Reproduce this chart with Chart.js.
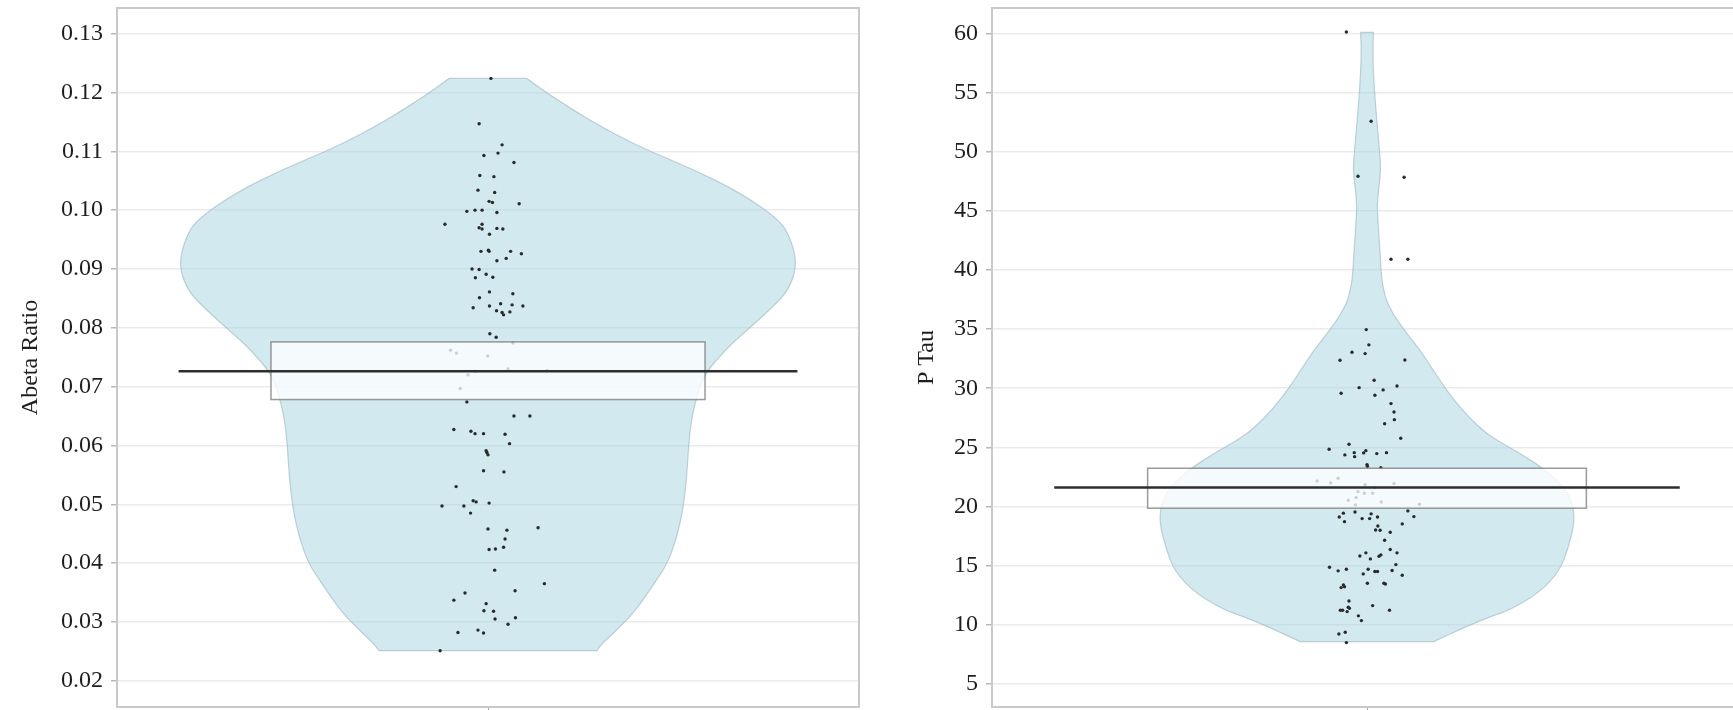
<!DOCTYPE html>
<html>
<head>
<meta charset="utf-8">
<script src="https://cdn.jsdelivr.net/npm/chart.js@4.4.0/dist/chart.umd.min.js"></script>
<style>
  html, body { margin: 0; padding: 0; background: #fff; width: 1733px; height: 710px; overflow: hidden; }
  .panel { position: absolute; top: 0; height: 710px; overflow: hidden; }
  #panelA { left: 0; width: 868px; }
  #panelB { left: 868px; width: 865px; }
  canvas { display: block; }
</style>
</head>
<body>
<div class="panel" id="panelA"><canvas id="abetaChart" width="870" height="760"></canvas></div>
<div class="panel" id="panelB"><canvas id="ptauChart" width="880" height="760"></canvas></div>
<script>
// ---- Abeta Ratio ----
const abetaValues = [
  0.1224, 0.1147, 0.1111, 0.1097, 0.1093, 0.1081, 0.1059, 0.1057, 0.1034, 0.1030,
  0.1015, 0.1013, 0.1011, 0.0998, 0.1000, 0.1000, 0.0996, 0.0976, 0.0976, 0.0970,
  0.0968, 0.0969, 0.0968, 0.0959, 0.0930, 0.0932, 0.0930, 0.0930, 0.0926, 0.0918,
  0.0914, 0.0900, 0.0899, 0.0891, 0.0885, 0.0886, 0.0861, 0.0858, 0.0851, 0.0834,
  0.0837, 0.0841, 0.0839, 0.0837, 0.0829, 0.0826, 0.0822, 0.0827, 0.0790, 0.0784,
  0.0774, 0.0762, 0.0757, 0.0752, 0.0730, 0.0726, 0.0727, 0.0720, 0.0697, 0.0674,
  0.0650, 0.0650, 0.0627, 0.0624, 0.0620, 0.0620, 0.0619, 0.0603, 0.0591, 0.0588,
  0.0584, 0.0557, 0.0555, 0.0530, 0.0506, 0.0504, 0.0497, 0.0497, 0.0502, 0.0485,
  0.0458, 0.0456, 0.0460, 0.0441, 0.0423, 0.0424, 0.0427, 0.0388, 0.0365, 0.0353,
  0.0349, 0.0337, 0.0331, 0.0319, 0.0318, 0.0305, 0.0307, 0.0296, 0.0282, 0.0286,
  0.0281, 0.0251
];
const abetaJitter = [
  0.008, -0.024, 0.038, 0.027, -0.011, 0.070, -0.022, 0.016, -0.027, 0.018,
  0.003, 0.012, 0.084, -0.057, -0.035, -0.016, 0.024, -0.116, -0.016, -0.024,
  -0.016, 0.024, 0.040, 0.004, -0.019, 0.001, 0.003, 0.061, 0.090, 0.049,
  0.024, -0.043, -0.024, -0.005, -0.034, 0.013, 0.004, 0.067, -0.023, -0.040,
  0.004, 0.034, 0.065, 0.094, 0.023, 0.038, 0.042, 0.059, 0.005, 0.022,
  0.067, -0.101, -0.085, -0.001, 0.054, -0.034, 0.159, -0.054, -0.075, -0.057,
  0.070, 0.113, -0.092, -0.046, -0.035, -0.012, 0.046, 0.058, -0.005, -0.003,
  0.000, -0.012, 0.043, -0.086, -0.040, -0.032, -0.124, -0.065, 0.003, -0.047,
  0.000, 0.051, 0.135, 0.046, 0.003, 0.020, 0.042, 0.018, 0.152, 0.073,
  -0.062, -0.092, -0.005, -0.011, 0.015, 0.019, 0.074, 0.054, -0.081, -0.027,
  -0.012, -0.129
];
// density outline: levels (top to bottom) and half widths in x-axis units
const abetaLevels = [
  0.1224, 0.1210, 0.1196, 0.1176, 0.1165, 0.1150, 0.1136, 0.1118, 0.1100, 0.1067,
  0.1030, 0.0983, 0.0950, 0.0907, 0.0870, 0.0847, 0.0800, 0.0774, 0.0750, 0.0726,
  0.0700, 0.0678, 0.0650, 0.0610, 0.0550, 0.0500, 0.0450, 0.0400, 0.0360, 0.0330,
  0.0305, 0.0280, 0.0262, 0.0251
];
const abetaHalfWidths = [
  0.105, 0.135, 0.167, 0.216, 0.243, 0.283, 0.323, 0.377, 0.437, 0.561,
  0.679, 0.787, 0.817, 0.833, 0.814, 0.787, 0.706, 0.658, 0.623, 0.590,
  0.571, 0.561, 0.550, 0.542, 0.536, 0.528, 0.512, 0.485, 0.442, 0.410,
  0.377, 0.337, 0.305, 0.294
];
const abetaBand = [0.0678, 0.0776];
const abetaMean = 0.0726;
const abetaTicks = [0.02, 0.03, 0.04, 0.05, 0.06, 0.07, 0.08, 0.09, 0.10, 0.11, 0.12, 0.13];

// ---- P Tau ----
const ptauValues = [
  60.14, 52.59, 47.94, 47.85, 40.91, 40.91, 34.96, 33.67, 33.05, 32.93,
  32.37, 32.39, 30.68, 30.05, 30.19, 29.58, 29.86, 29.41, 28.70, 27.99,
  27.34, 27.00, 25.77, 25.26, 24.84, 24.36, 24.55, 24.21, 24.53, 24.72,
  24.47, 24.55, 23.54, 23.40, 23.28, 22.15, 21.99, 22.38, 21.84, 21.59,
  21.93, 21.25, 21.12, 21.12, 20.75, 20.52, 20.38, 20.19, 20.13, 19.53,
  19.62, 19.43, 19.37, 19.11, 19.14, 18.97, 18.97, 19.11, 18.71, 18.52,
  18.35, 18.01, 17.99, 17.82, 17.14, 16.35, 16.07, 16.07, 15.81, 15.90,
  15.79, 15.56, 15.08, 14.86, 14.55, 14.69, 14.69, 14.49, 14.49, 14.58,
  14.18, 14.29, 13.50, 13.50, 13.44, 13.36, 13.21, 13.13, 12.00, 11.61,
  11.47, 11.39, 11.22, 11.22, 11.10, 11.22, 10.74, 10.34, 9.21, 9.36,
  8.48
];
const ptauJitter = [
  -0.055, 0.011, -0.024, 0.099, 0.064, 0.109, -0.002, 0.005, -0.040, -0.005,
  -0.072, 0.101, 0.019, -0.021, 0.080, -0.069, 0.043, 0.021, 0.064, 0.072,
  0.073, 0.047, 0.090, -0.048, -0.101, -0.059, -0.034, -0.033, -0.009, -0.003,
  0.026, 0.052, 0.000, 0.001, 0.037, -0.133, -0.097, -0.077, -0.005, 0.021,
  0.072, -0.024, -0.007, 0.015, -0.029, -0.050, 0.038, 0.140, -0.031, -0.032,
  0.109, -0.063, 0.011, -0.074, 0.125, -0.013, 0.007, 0.028, -0.060, 0.094,
  0.029, 0.023, 0.035, 0.062, 0.047, 0.062, -0.003, 0.080, -0.019, 0.037,
  0.032, 0.009, 0.077, -0.100, -0.077, -0.055, 0.003, 0.021, 0.028, 0.067,
  0.094, -0.010, 0.001, 0.045, 0.049, -0.063, -0.060, -0.069, -0.048, 0.015,
  -0.050, -0.047, -0.071, -0.065, -0.053, 0.060, -0.023, -0.015, -0.075, -0.058,
  -0.055
];
const ptauLevels = [
  60.1, 58.3, 55.5, 52.7, 49.9, 48.5, 47.1, 45.6, 44.2, 41.4,
  39.2, 38.0, 37.4, 36.9, 36.0, 34.6, 33.2, 31.8, 30.4, 29.0,
  27.6, 26.1, 25.1, 24.1, 23.1, 21.6, 20.0, 18.6, 16.5, 14.5,
  12.7, 11.2, 10.7, 9.8, 8.56
];
const ptauHalfWidths = [
  0.017, 0.015, 0.019, 0.026, 0.034, 0.037, 0.032, 0.027, 0.029, 0.035,
  0.039, 0.047, 0.052, 0.060, 0.075, 0.107, 0.142, 0.171, 0.200, 0.232,
  0.270, 0.320, 0.374, 0.427, 0.475, 0.528, 0.550, 0.553, 0.537, 0.513,
  0.459, 0.379, 0.331, 0.262, 0.178
];
const ptauBand = [19.85, 23.23];
const ptauMean = 21.6;
const ptauTicks = [5, 10, 15, 20, 25, 30, 35, 40, 45, 50, 55, 60];

// ---- drawing helpers ----
function smoothPath(ctx, pts, startNew) {
  if (startNew) ctx.moveTo(pts[0][0], pts[0][1]); else ctx.lineTo(pts[0][0], pts[0][1]);
  for (let i = 1; i < pts.length - 1; i++) {
    const mx = (pts[i][0] + pts[i + 1][0]) / 2;
    const my = (pts[i][1] + pts[i + 1][1]) / 2;
    ctx.quadraticCurveTo(pts[i][0], pts[i][1], mx, my);
  }
  const last = pts[pts.length - 1];
  ctx.lineTo(last[0], last[1]);
}

const violinPlugin = {
  id: 'violin',
  beforeDatasetsDraw(chart, args, opts) {
    const { ctx, scales: { x, y } } = chart;
    const right = opts.levels.map((v, i) => [x.getPixelForValue(opts.halfWidths[i]), y.getPixelForValue(v)]);
    const left = opts.levels.map((v, i) => [x.getPixelForValue(-opts.halfWidths[i]), y.getPixelForValue(v)]).reverse();
    ctx.save();
    ctx.beginPath();
    smoothPath(ctx, right, true);
    smoothPath(ctx, left, false);
    ctx.closePath();
    ctx.fillStyle = 'rgba(166, 211, 225, 0.5)';
    ctx.fill();
    ctx.lineWidth = 1.2;
    ctx.strokeStyle = 'rgba(150, 175, 185, 0.55)';
    ctx.stroke();
    ctx.restore();
  },
  afterDatasetsDraw(chart, args, opts) {
    const { ctx, scales: { x, y } } = chart;
    // interval box
    const bx0 = x.getPixelForValue(-0.585), bx1 = x.getPixelForValue(0.585);
    const by0 = y.getPixelForValue(opts.band[1]), by1 = y.getPixelForValue(opts.band[0]);
    ctx.save();
    ctx.fillStyle = 'rgba(255, 255, 255, 0.78)';
    ctx.fillRect(bx0, by0, bx1 - bx0, by1 - by0);
    ctx.lineWidth = 1.5;
    ctx.strokeStyle = 'rgba(120, 120, 120, 0.75)';
    ctx.strokeRect(bx0, by0, bx1 - bx0, by1 - by0);
    // mean line
    const my = y.getPixelForValue(opts.mean);
    ctx.beginPath();
    ctx.moveTo(x.getPixelForValue(-0.834), my);
    ctx.lineTo(x.getPixelForValue(0.834), my);
    ctx.lineWidth = 2.4;
    ctx.strokeStyle = '#2e2e2e';
    ctx.stroke();
    ctx.restore();
  },
  afterDraw(chart) {
    const { ctx, chartArea: a } = chart;
    ctx.save();
    ctx.lineWidth = 2;
    ctx.strokeStyle = '#c9c9c9';
    ctx.strokeRect(a.left, a.top, a.right - a.left, a.bottom - a.top);
    ctx.restore();
  }
};

function makeChart(id, cfg) {
  const font = { family: "'Liberation Serif', 'Times New Roman', serif", size: 24 };
  return new Chart(document.getElementById(id), {
    type: 'scatter',
    data: {
      datasets: [{
        data: cfg.values.map((v, i) => ({ x: cfg.jitter[i], y: v })),
        pointRadius: 1.7,
        pointHoverRadius: 1.7,
        backgroundColor: '#2a2a2a',
        borderWidth: 0
      }]
    },
    options: {
      responsive: false,
      animation: false,
      events: [],
      layout: { padding: { top: 8, right: cfg.padRight, bottom: 0, left: 0 } },
      plugins: {
        legend: { display: false },
        tooltip: { enabled: false },
        violin: { levels: cfg.levels, halfWidths: cfg.halfWidths, band: cfg.band, mean: cfg.mean }
      },
      scales: {
        x: {
          type: 'linear', min: -1, max: 1,
          afterBuildTicks: s => { s.ticks = [{ value: 0 }]; },
          ticks: { display: false },
          grid: { drawOnChartArea: false, drawTicks: true, tickLength: 6, tickColor: '#a8a8a8' },
          border: { display: false },
          afterFit: s => { s.height = 53; }
        },
        y: {
          type: 'linear', min: cfg.min, max: cfg.max,
          afterBuildTicks: s => { s.ticks = cfg.ticks.map(v => ({ value: v })); },
          ticks: {
            font, color: '#1e1e1e', padding: 8,
            callback: v => v.toFixed(cfg.decimals)
          },
          grid: { color: '#ebebeb', lineWidth: 1.5, drawTicks: true, tickLength: 6, tickColor: '#b8b8b8' },
          border: { display: false },
          title: { display: true, text: cfg.title, font, color: '#1e1e1e', padding: { top: cfg.titlePad, bottom: 0 } },
          afterFit: s => { s.width = cfg.axisWidth; s.paddingTop = 0; s.paddingBottom = 0; }
        }
      }
    },
    plugins: [violinPlugin]
  });
}

makeChart('abetaChart', {
  values: abetaValues, jitter: abetaJitter, levels: abetaLevels, halfWidths: abetaHalfWidths,
  band: abetaBand, mean: abetaMean, ticks: abetaTicks, decimals: 2,
  min: 0.01553, max: 0.13437, title: 'Abeta Ratio', titlePad: 16, axisWidth: 117, padRight: 11
});
makeChart('ptauChart', {
  values: ptauValues, jitter: ptauJitter, levels: ptauLevels, halfWidths: ptauHalfWidths,
  band: ptauBand, mean: ptauMean, ticks: ptauTicks, decimals: 0,
  min: 3.03, max: 62.17, title: 'P Tau', titlePad: 44, axisWidth: 124, padRight: 6
});
</script>
</body>
</html>
